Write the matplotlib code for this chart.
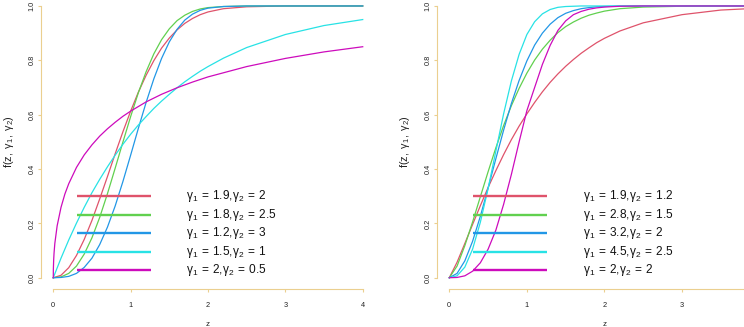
import matplotlib
matplotlib.use("Agg")
import matplotlib.pyplot as plt

plt.rcParams['font.family'] = ['Liberation Sans', 'DejaVu Sans']
plt.rcParams['mathtext.fontset'] = 'custom'
plt.rcParams['mathtext.rm'] = 'Liberation Sans'
plt.rcParams['mathtext.it'] = 'Liberation Sans'
plt.rcParams['mathtext.default'] = 'regular'

# z grid
z = [0, 0.1, 0.2, 0.3, 0.4, 0.5, 0.6, 0.7, 0.8, 0.9, 1.0, 1.1, 1.2, 1.3, 1.4,
     1.5, 1.6, 1.7, 1.8, 1.9, 2.0, 2.2, 2.5, 3.0, 3.5, 4.0]
z_fine = [0, 0.001, 0.005, 0.01, 0.02, 0.05, 0.1, 0.15, 0.2, 0.3, 0.4, 0.5, 0.6,
          0.7, 0.8, 0.9, 1.0, 1.2, 1.4, 1.6, 1.8, 2.0, 2.5, 3.0, 3.5, 4.0]

# left panel
red_L = [0, 0.009, 0.037, 0.082, 0.141, 0.211, 0.290, 0.372, 0.456, 0.537, 0.613,
         0.683, 0.745, 0.799, 0.845, 0.882, 0.912, 0.936, 0.954, 0.968, 0.978,
         0.990, 0.997, 1.0, 1.0, 1.0]
green_L = [0, 0.003, 0.016, 0.043, 0.087, 0.147, 0.222, 0.309, 0.403, 0.499, 0.593,
           0.681, 0.758, 0.824, 0.876, 0.916, 0.946, 0.966, 0.980, 0.989, 0.994,
           0.998, 1.0, 1.0, 1.0, 1.0]
blue_L = [0, 0.001, 0.005, 0.016, 0.038, 0.072, 0.122, 0.186, 0.264, 0.354, 0.451,
          0.550, 0.645, 0.732, 0.807, 0.868, 0.914, 0.948, 0.970, 0.984, 0.992,
          0.998, 1.0, 1.0, 1.0, 1.0]
cyan_L = [0, 0.072, 0.139, 0.201, 0.259, 0.313, 0.362, 0.408, 0.451, 0.491, 0.528,
          0.562, 0.593, 0.623, 0.650, 0.675, 0.699, 0.721, 0.741, 0.760, 0.777,
          0.808, 0.847, 0.895, 0.928, 0.950]
mag_L = [0, 0.030, 0.065, 0.091, 0.126, 0.191, 0.259, 0.308, 0.346, 0.406, 0.452,
         0.489, 0.521, 0.548, 0.572, 0.594, 0.613, 0.647, 0.675, 0.699, 0.720,
         0.739, 0.777, 0.807, 0.831, 0.850]
labels_L = [r'$\gamma_1\:{=}\:1.9{,}\gamma_2\:{=}\:2$',
            r'$\gamma_1\:{=}\:1.8{,}\gamma_2\:{=}\:2.5$',
            r'$\gamma_1\:{=}\:1.2{,}\gamma_2\:{=}\:3$',
            r'$\gamma_1\:{=}\:1.5{,}\gamma_2\:{=}\:1$',
            r'$\gamma_1\:{=}\:2{,}\gamma_2\:{=}\:0.5$']

# right panel
red_R = [0, 0.057, 0.126, 0.196, 0.265, 0.332, 0.394, 0.453, 0.508, 0.558, 0.603,
         0.645, 0.684, 0.719, 0.750, 0.778, 0.803, 0.826, 0.846, 0.865, 0.881,
         0.908, 0.938, 0.968, 0.985, 0.992]
green_R = [0, 0.043, 0.118, 0.205, 0.298, 0.390, 0.478, 0.560, 0.633, 0.697, 0.753,
           0.801, 0.841, 0.874, 0.902, 0.924, 0.941, 0.955, 0.966, 0.974, 0.981,
           0.990, 0.996, 0.999, 1.0, 1.0]
blue_R = [0, 0.016, 0.062, 0.134, 0.226, 0.330, 0.438, 0.543, 0.641, 0.726, 0.798,
          0.856, 0.900, 0.933, 0.957, 0.973, 0.983, 0.990, 0.994, 0.997, 0.998,
          1.0, 1.0, 1.0, 1.0, 1.0]
cyan_R = [0, 0.007, 0.039, 0.105, 0.204, 0.328, 0.466, 0.603, 0.724, 0.822, 0.895,
          0.942, 0.971, 0.987, 0.995, 0.998, 0.999, 1.0, 1.0, 1.0, 1.0, 1.0, 1.0,
          1.0, 1.0, 1.0]
mag_R = [0, 0.001, 0.007, 0.024, 0.055, 0.105, 0.175, 0.270, 0.380, 0.500, 0.615,
         0.700, 0.785, 0.855, 0.910, 0.945, 0.968, 0.980, 0.988, 0.993, 0.996,
         0.999, 1.0, 1.0, 1.0, 1.0]
labels_R = [r'$\gamma_1\:{=}\:1.9{,}\gamma_2\:{=}\:1.2$',
            r'$\gamma_1\:{=}\:2.8{,}\gamma_2\:{=}\:1.5$',
            r'$\gamma_1\:{=}\:3.2{,}\gamma_2\:{=}\:2$',
            r'$\gamma_1\:{=}\:4.5{,}\gamma_2\:{=}\:2.5$',
            r'$\gamma_1\:{=}\:2{,}\gamma_2\:{=}\:2$']

colors = ['#DF536B', '#61D04F', '#2297E6', '#28E2E5', '#CD0BBC']
axis_col = '#EBCF8F'

fig = plt.figure(figsize=(7.44, 3.27), dpi=100)


def panel(ax, curves, labels, xticks):
    for (xs, ys), c in zip(curves, colors):
        ax.plot(xs, ys, color=c, lw=0.9)

    # legend drawn by hand like R's legend(bty="n")
    for i, (lab, c) in enumerate(zip(labels, colors)):
        yy = 0.30 - i * 0.068
        ax.plot([0.305, 1.265], [yy, yy], color=c, lw=1.7, solid_capstyle='butt')
        ax.text(1.72, yy, lab, fontsize=8.6, va='center', ha='left', color='#111111')

    ax.set_xlim(-0.16, 4.16)
    ax.set_ylim(-0.04, 1.04)
    for s in ['top', 'right']:
        ax.spines[s].set_visible(False)
    for s in ['left', 'bottom']:
        ax.spines[s].set_color(axis_col)
        ax.spines[s].set_linewidth(0.8)
    ax.spines['bottom'].set_bounds(0, 4)
    ax.spines['left'].set_bounds(0, 1)
    ax.set_xticks(xticks)
    ax.set_xticklabels([str(t) for t in xticks])
    ax.set_yticks([0, 0.2, 0.4, 0.6, 0.8, 1.0])
    ax.set_yticklabels(['0.0', '0.2', '0.4', '0.6', '0.8', '1.0'])
    ax.tick_params(axis='both', color=axis_col, width=0.8, length=2.5,
                   labelsize=5.3, labelcolor='#222222')
    ax.tick_params(axis='x', pad=7.5)
    ax.tick_params(axis='y', pad=1.2)
    for t in ax.get_yticklabels():
        t.set_rotation(90)
        t.set_va('center')
    ax.set_xlabel('z', fontsize=5.8, labelpad=8, color='#222222')
    ax.set_ylabel(r'$f(z,\ \gamma_1,\ \gamma_2)$', fontsize=7.8, labelpad=9.5,
                  color='#222222')
    ax.patch.set_alpha(0)


ax1 = fig.add_axes([40.9 / 744, 38.4 / 327, 334.2 / 744, 293.5 / 327])
panel(ax1, [(z, red_L), (z, green_L), (z, blue_L), (z, cyan_L), (z_fine, mag_L)],
      labels_L, [0, 1, 2, 3, 4])

# right panel runs past the right edge of the picture, as in the original
ax2 = fig.add_axes([436.9 / 744, 38.4 / 327, 335.1 / 744, 293.5 / 327])
panel(ax2, [(z, red_R), (z, green_R), (z, blue_R), (z, cyan_R), (z, mag_R)],
      labels_R, [0, 1, 2, 3])

fig.savefig('out.png', dpi=100)
